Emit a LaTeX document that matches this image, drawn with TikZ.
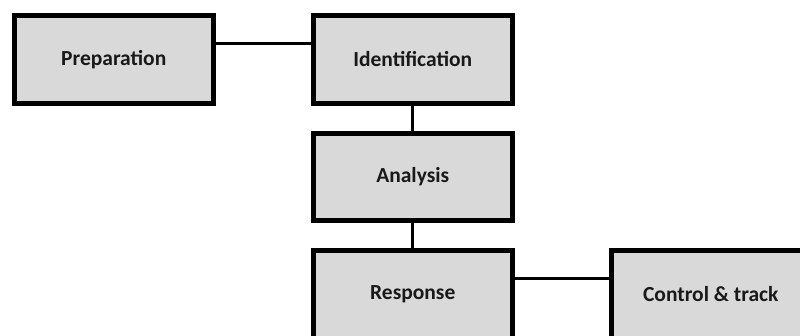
\documentclass[tikz,border=0pt]{standalone}
\usepackage{fontspec}
\setmainfont{Carlito}
\begin{document}
\begin{tikzpicture}[x=1pt,y=-1pt,
  stage/.style={draw=black, line width=5pt, fill=black!15, rectangle,
    minimum width=198.5pt, minimum height=88pt, inner sep=0pt,
    font=\fontsize{21.5}{24}\selectfont\bfseries, text=black!90},
  link/.style={draw=black, line width=3pt}]
\useasboundingbox (0,0) rectangle (800,336);
\node[stage] (prep) at (113.75,59.5) {Preparation};
\node[stage] (ident) at (412.75,59.5) {Identification};
\node[stage, minimum height=87pt] (anal) at (412.75,176.8) {Analysis};
\node[stage] (resp) at (412.75,294.5) {Response};
\node[stage] (ctrl) at (710.75,294.5) {Control \& track};
\draw[link] ([yshift=15.5pt]prep.east) -- ([yshift=15.5pt]ident.west);
\draw[link] (ident.south) -- (anal.north);
\draw[link] (anal.south) -- (resp.north);
\draw[link] ([yshift=15.5pt]resp.east) -- ([yshift=15.5pt]ctrl.west);
\end{tikzpicture}
\end{document}
